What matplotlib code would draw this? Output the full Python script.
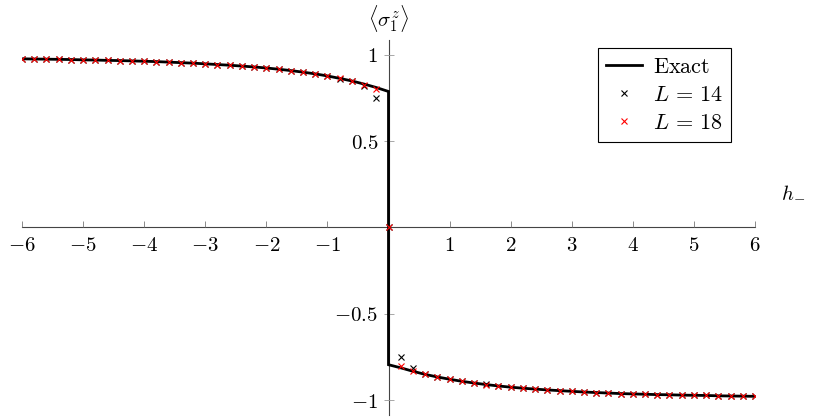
import matplotlib
matplotlib.use("Agg")
import matplotlib.pyplot as plt
from matplotlib.lines import Line2D

plt.rcParams['mathtext.fontset'] = 'cm'
plt.rcParams['font.family'] = ['DejaVu Serif']

# ---- data ----
h_left = [-6.0, -5.8, -5.6, -5.4, -5.2, -5.0, -4.8, -4.6, -4.4, -4.2, -4.0,
          -3.8, -3.6, -3.4, -3.2, -3.0, -2.8, -2.6, -2.4, -2.2, -2.0,
          -1.8, -1.6, -1.4, -1.2, -1.0, -0.8, -0.6, -0.4, -0.2, 0.0]
exact_left = [0.976, 0.975, 0.974, 0.973, 0.972, 0.970, 0.969, 0.967, 0.966, 0.964, 0.962,
              0.960, 0.957, 0.954, 0.951, 0.947, 0.943, 0.939, 0.934, 0.929, 0.923,
              0.916, 0.908, 0.899, 0.889, 0.877, 0.863, 0.848, 0.830, 0.810, 0.787]
h_right = [0.0, 0.2, 0.4, 0.6, 0.8, 1.0, 1.2, 1.4, 1.6, 1.8, 2.0,
           2.2, 2.4, 2.6, 2.8, 3.0, 3.2, 3.4, 3.6, 3.8, 4.0,
           4.2, 4.4, 4.6, 4.8, 5.0, 5.2, 5.4, 5.6, 5.8, 6.0]
exact_right = [-0.794, -0.812, -0.832, -0.850, -0.865, -0.878, -0.890, -0.900, -0.909, -0.917, -0.924,
               -0.930, -0.935, -0.940, -0.944, -0.948, -0.952, -0.955, -0.958, -0.961, -0.963,
               -0.965, -0.967, -0.968, -0.970, -0.971, -0.972, -0.974, -0.975, -0.976, -0.977]

h_pts = h_left + h_right[1:]
L14 = [0.976, 0.975, 0.974, 0.973, 0.972, 0.970, 0.969, 0.967, 0.966, 0.964, 0.962,
       0.960, 0.957, 0.954, 0.951, 0.947, 0.943, 0.939, 0.934, 0.929, 0.923,
       0.916, 0.908, 0.899, 0.889, 0.877, 0.862, 0.846, 0.820, 0.748, 0.0,
       -0.750, -0.813, -0.845, -0.863, -0.877, -0.889, -0.899, -0.908, -0.916, -0.923,
       -0.929, -0.935, -0.940, -0.944, -0.948, -0.952, -0.955, -0.958, -0.961, -0.963,
       -0.965, -0.967, -0.968, -0.970, -0.971, -0.972, -0.974, -0.975, -0.976, -0.977]
L18 = [0.976, 0.975, 0.974, 0.973, 0.972, 0.970, 0.969, 0.967, 0.966, 0.964, 0.962,
       0.960, 0.957, 0.954, 0.951, 0.947, 0.943, 0.939, 0.934, 0.929, 0.923,
       0.916, 0.908, 0.899, 0.889, 0.877, 0.863, 0.848, 0.826, 0.800, 0.0,
       -0.800, -0.828, -0.849, -0.865, -0.878, -0.890, -0.900, -0.909, -0.917, -0.924,
       -0.930, -0.935, -0.940, -0.944, -0.948, -0.952, -0.955, -0.958, -0.961, -0.963,
       -0.965, -0.967, -0.968, -0.970, -0.971, -0.972, -0.974, -0.975, -0.976, -0.977]

xticks = [-6, -5, -4, -3, -2, -1, 1, 2, 3, 4, 5, 6]
yticks = [-1, -0.5, 0.5, 1]
ytick_labels = [r'$-1$', r'$-0.5$', r'$0.5$', r'$1$']

# ---- figure ----
fig = plt.figure(figsize=(8.14, 4.19), dpi=100)
ax = fig.add_axes([22/814, 4/419, 733/814, 375/419])
ax.set_xlim(-6, 6)
ax.set_ylim(-1.085, 1.085)

h_exact = h_left + h_right
y_exact = exact_left + exact_right
ax.plot(h_exact, y_exact, color='black', lw=2.0, zorder=3, solid_joinstyle='miter')
ax.plot(h_pts, L14, ls='none', marker='x', ms=5, mew=0.8, color='black', zorder=4)
ax.plot(h_pts, L18, ls='none', marker='x', ms=5, mew=0.8, color='red', zorder=5)

for s in ['top', 'right']:
    ax.spines[s].set_visible(False)
ax.spines['left'].set_position(('data', 0))
ax.spines['bottom'].set_position(('data', 0))
for s in ['left', 'bottom']:
    ax.spines[s].set_color('#444444')
    ax.spines[s].set_linewidth(0.8)
    ax.spines[s].set_zorder(1)

ax.set_xticks(xticks)
ax.set_xticklabels([r'$%d$' % t if t >= 0 else r'$-%d$' % (-t) for t in xticks])
ax.set_yticks(yticks)
ax.set_yticklabels(ytick_labels)
ax.tick_params(axis='x', direction='in', length=4, width=0.6, color='#777777',
               labelsize=15, pad=6)
ax.tick_params(axis='y', direction='inout', length=7, width=0.6, color='#999999',
               labelsize=15, pad=4)

ax.text(0, 1.212, r'$\langle\sigma_1^z\rangle$', ha='center', va='center',
        fontsize=15, clip_on=False)
ax.text(6.62, 0.205, r'$h_{-}$', ha='center', va='center', fontsize=15, clip_on=False)

handles = [Line2D([], [], color='black', lw=2.0),
           Line2D([], [], ls='none', marker='x', ms=4.5, mew=0.8, color='black'),
           Line2D([], [], ls='none', marker='x', ms=4.5, mew=0.8, color='red')]
labels = [r'$\mathrm{Exact}$', r'$L\,=\,14$', r'$L\,=\,18$']
leg = ax.legend(handles, labels, loc='upper right', bbox_to_anchor=(0.967, 0.979),
                borderaxespad=0, fancybox=False, framealpha=1, edgecolor='black',
                fontsize=16, handlelength=1.6, handletextpad=0.5, borderpad=0.35,
                labelspacing=0.28)
leg.get_frame().set_linewidth(0.8)

fig.savefig('out.png', dpi=100)
